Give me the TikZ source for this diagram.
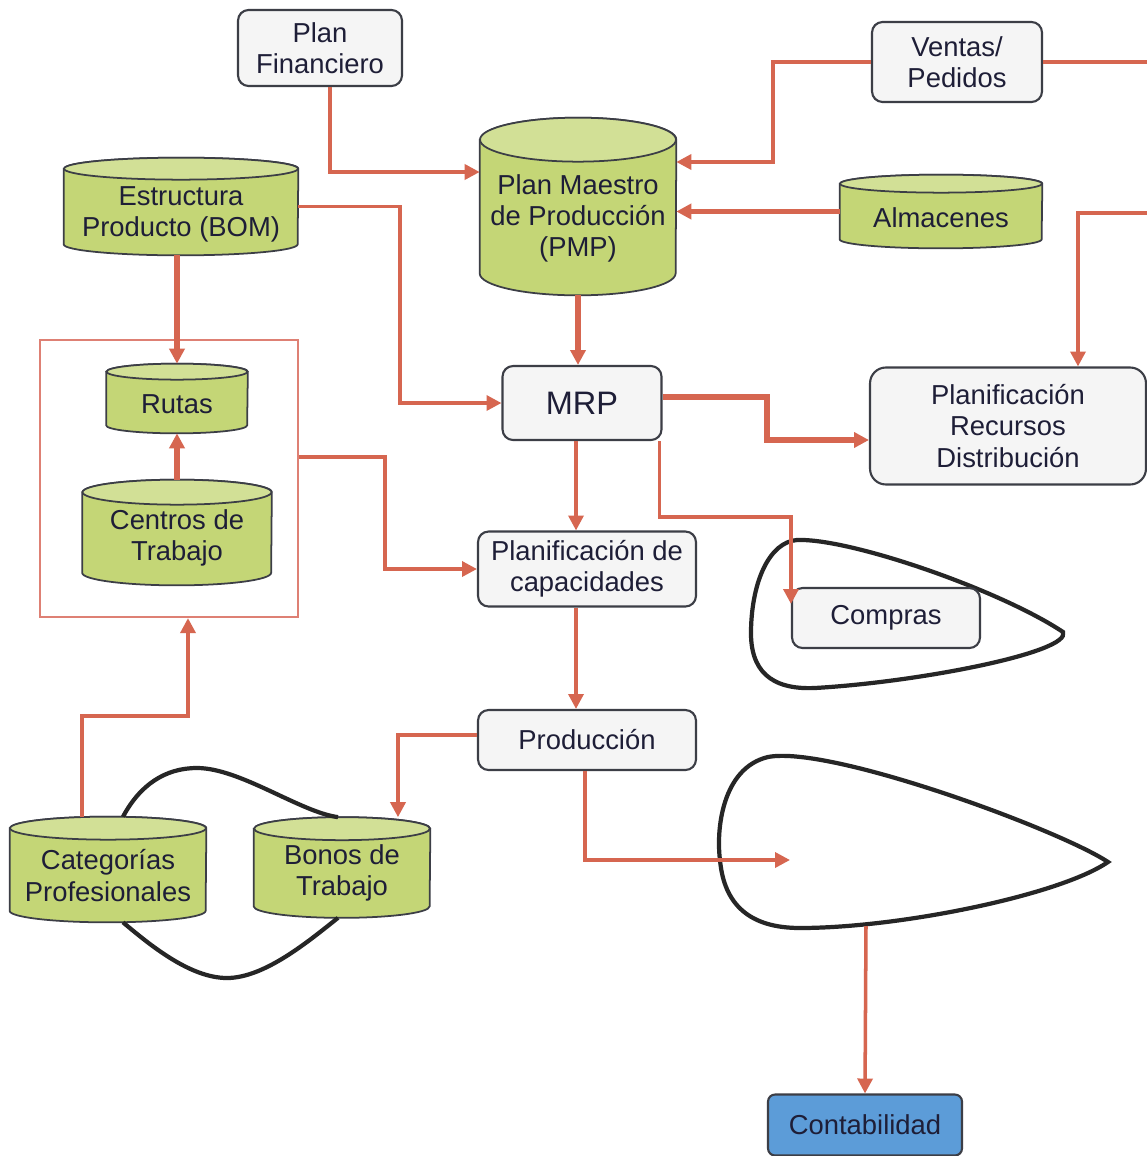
\documentclass[tikz,border=0pt]{standalone}
\usepackage{fontspec}
\setmainfont{Liberation Sans}
\usetikzlibrary{arrows.meta,backgrounds}

\definecolor{flecha}{RGB}{214,102,80}
\definecolor{marco}{RGB}{222,128,116}
\definecolor{verde}{RGB}{196,214,118}
\definecolor{verdeclaro}{RGB}{210,224,150}
\definecolor{borde}{RGB}{60,62,70}
\definecolor{texto}{RGB}{30,30,55}
\definecolor{azul}{RGB}{92,156,216}

\begin{document}
\begin{tikzpicture}[
  x=0.02cm, y=-0.02cm,
  font=\fontsize{15.6}{17.7}\selectfont, text=texto,
  box/.style={draw=borde, line width=1.2pt, rounded corners=6pt, fill=gray!8,
              inner sep=2pt, align=center},
  cyl/.style={rectangle, inner sep=0pt},
  cyltxt/.style={align=center, inner sep=0pt},
  cylbody/.style={draw=borde, line width=1pt, fill=verde},
  cyltop/.style={draw=borde, line width=1pt, fill=verdeclaro},
  arr/.style={-{Triangle[length=8.5pt, width=8.5pt]}, draw=flecha, line width=2pt},
  thickarr/.style={arr, line width=3pt},
  lazo/.style={draw=black!85, line width=2.4pt}]
  \useasboundingbox (0,0) rectangle (1146,1156);

  % lazos
  \draw[lazo] (1063,632) .. controls (1000,590) and (850,538) .. (797,540)
     .. controls (770,542) and (752,580) .. (751,630)
     .. controls (750,670) and (770,690) .. (815,688)
     .. controls (920,682) and (1072,652) .. (1063,632) -- cycle;
  \draw[lazo] (1108,862) .. controls (1060,830) and (830,745) .. (768,757)
     .. controls (722,768) and (716,830) .. (720,860)
     .. controls (724,905) and (750,928) .. (800,928)
     .. controls (900,928) and (1060,895) .. (1108,862) -- cycle;
  \coordinate (entrada) at (790,860);
  \coordinate (salida) at (866,926);

  % nodos
  \node[box, minimum width=3.28cm, minimum height=1.52cm] (plan) at (320,48) {Plan\\Financiero};
  \node[box, minimum width=3.4cm, minimum height=1.6cm] (ventas) at (957,62) {Ventas/\\Pedidos};
  \node[cyl, minimum width=4.68cm, minimum height=1.94cm,
        label={[cyltxt, yshift=-0.16cm]center:Estructura\\Producto (BOM)}] (bom) at (181,206.5) {};
  \node[cyl, minimum width=3.92cm, minimum height=3.54cm,
        label={[cyltxt, yshift=-0.24cm]center:Plan Maestro\\de Producción\\(PMP)}] (pmp) at (578,206.5) {};
  \node[cyl, minimum width=4.04cm, minimum height=1.46cm,
        label={[cyltxt, yshift=-0.12cm]center:Almacenes}] (alm) at (941,211.5) {};
  \node[draw=marco, line width=1.3pt, minimum width=5.16cm, minimum height=5.54cm] (grupo) at (169,478.5) {};
  \node[cyl, minimum width=2.82cm, minimum height=1.38cm,
        label={[cyltxt, yshift=-0.12cm]center:Rutas}] (rutas) at (177,398.5) {};
  \node[cyl, minimum width=3.78cm, minimum height=2.1cm,
        label={[cyltxt, yshift=-0.1cm]center:Centros de\\Trabajo}] (centros) at (177,532.5) {};
  \node[box, minimum width=3.18cm, minimum height=1.48cm, font=\fontsize{18.5}{20}\selectfont] (mrp) at (582,403) {MRP};
  \node[box, rounded corners=9pt, minimum width=5.52cm, minimum height=2.34cm] (drp) at (1008,426) {Planificación\\Recursos\\Distribución};
  \node[box, minimum width=4.36cm, minimum height=1.5cm] (cap) at (587,569) {Planificación de\\capacidades};
  \node[box, minimum width=3.76cm, minimum height=1.2cm] (compras) at (886,618) {Compras};
  \node[box, minimum width=4.36cm, minimum height=1.2cm] (prod) at (587,740) {Producción};
  \node[cyl, minimum width=3.92cm, minimum height=2.1cm,
        label={[cyltxt, yshift=-0.12cm]center:Categorías\\Profesionales}] (cat) at (108,869.5) {};
  \node[cyl, minimum width=3.52cm, minimum height=2cm,
        label={[cyltxt, yshift=-0.1cm]center:Bonos de\\Trabajo}] (bonos) at (342,867.5) {};
  \node[box, fill=azul, rounded corners=4pt, minimum width=3.88cm, minimum height=1.22cm] (conta) at (865,1125) {Contabilidad};

  \draw[lazo] ([xshift=0.3cm]cat.north) .. controls (140,785) and (165,768) .. (197,768)
     .. controls (240,768) and (300,812) .. ([xshift=-0.08cm]bonos.north);
  \draw[lazo] ([xshift=0.3cm]cat.south) .. controls (150,945) and (190,978) .. (227,978)
     .. controls (265,978) and (310,940) .. ([xshift=-0.08cm]bonos.south);

  % flechas
  \draw[arr] ([xshift=0.2cm]plan.south) |- (pmp.west |- 0,172);
  \draw[arr] (ventas.west) -| (773,162) -- (pmp.east |- 0,162);
  \draw[arr] (ventas.east) -| (1152,213) -| ([xshift=1.4cm]drp.north);
  \draw[thickarr] (alm.west) -- (pmp.east |- alm.west);
  \draw[arr] (bom.east) -| (400,403) -- (mrp.west);
  \draw[thickarr] (rutas.north |- bom.south) -- (rutas.north);
  \draw[thickarr] (centros.north) -- (rutas.south);
  \draw[arr] (grupo.east |- 0,457) -| (385,569) -- (cap.west);
  \draw[arr] ([xshift=-0.52cm]cat.north) |- (188,716) -- (grupo.south -| 188,0);
  \draw[thickarr] (pmp.south) -- (pmp.south |- mrp.north);
  \draw[thickarr] ([yshift=0.12cm]mrp.east) -| (767,440) -- (drp.west |- 0,440);
  \draw[arr] ([xshift=-0.06cm]mrp.south east) |- (compras.west |- 0,517) -- ([yshift=-0.34cm]compras.north west);
  \draw[arr] (mrp.south -| 576,0) -- (cap.north -| 576,0);
  \draw[arr] (cap.south -| 576,0) -- (prod.north -| 576,0);
  \draw[arr] ([yshift=0.1cm]prod.west) -| ([xshift=1.12cm]bonos.north);
  \draw[arr] ([xshift=-0.04cm]prod.south) |- (entrada);
  \draw[arr] (salida) -- (conta.north);

  % cilindros
  \begin{scope}[on background layer]
    \fill[white] (0,0) rectangle (1146,1156);
    \foreach \n/\rx/\ry in {bom/2.34cm/0.22cm, pmp/1.96cm/0.44cm, alm/2.02cm/0.18cm,
        rutas/1.41cm/0.16cm, centros/1.89cm/0.25cm, cat/1.96cm/0.23cm, bonos/1.76cm/0.23cm} {
      \draw[cylbody] ([yshift=-\ry]\n.north west) -- ([yshift=\ry]\n.south west)
        arc[start angle=180, end angle=360, x radius=\rx, y radius=\ry]
        -- ([yshift=-\ry]\n.north east)
        arc[start angle=0, end angle=180, x radius=\rx, y radius=\ry] -- cycle;
      \draw[cyltop] ([yshift=-\ry]\n.north) ellipse[x radius=\rx, y radius=\ry];
    }
  \end{scope}
\end{tikzpicture}
\end{document}
